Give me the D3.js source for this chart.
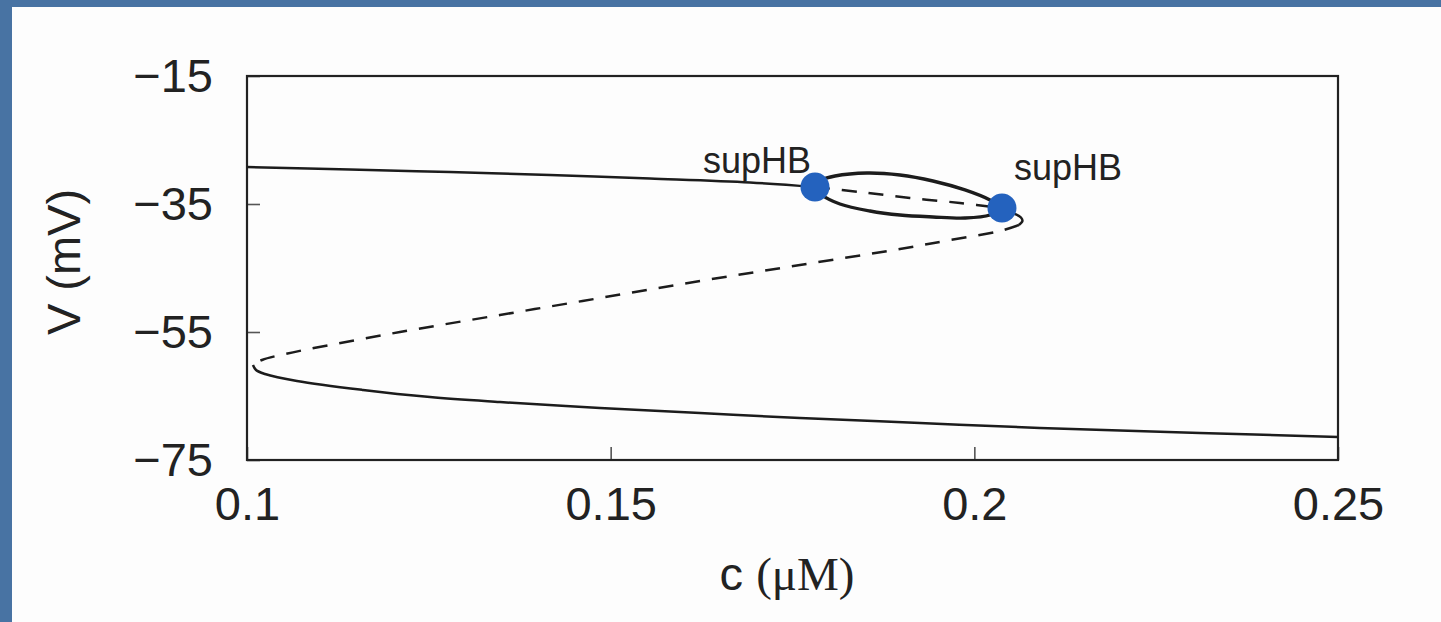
<!DOCTYPE html>
<html>
<head>
<meta charset="utf-8">
<script src="https://cdn.jsdelivr.net/npm/d3@7"></script>
<style>
  html, body { margin: 0; padding: 0; background: #46719f; }
  svg { display: block; }
</style>
</head>
<body>
<svg id="chart" width="1441" height="622"></svg>
<script>
// Bifurcation diagram of membrane potential V against calcium concentration c.

// Upper stable branch (depolarised steady states), up to the first Hopf point
const upperStableC = [0.1000, 0.11416, 0.12791, 0.14166, 0.15540, 0.16915, 0.17809];
const upperStableV = [-29.22, -29.61, -30.00, -30.47, -31.02, -31.64, -32.34];

// Unstable stretch of the upper branch between the two Hopf points
const upperUnstableC = [0.17809, 0.18427, 0.19115, 0.19802, 0.20380];
const upperUnstableV = [-32.34, -33.13, -34.06, -34.84, -35.63];

// Short stable stretch from the second Hopf point to the upper fold
const kneeStableC = [0.20380, 0.20531, 0.20641, 0.20661, 0.20613];
const kneeStableV = [-35.63, -36.41, -37.11, -37.66, -38.28];

// Middle (saddle) branch, unstable
const saddleC = [0.20613, 0.20352, 0.19665, 0.18977, 0.17602, 0.16228, 0.14853, 0.13478, 0.12103, 0.11141, 0.10522, 0.10206, 0.10082];
const saddleV = [-38.28, -39.22, -40.63, -42.03, -44.53, -47.03, -49.69, -52.34, -55.00, -57.03, -58.44, -59.38, -60.16];

// Lower stable branch (resting states)
const lowerStableC = [0.10082, 0.10124, 0.10247, 0.10687, 0.11595, 0.12516, 0.13478, 0.14853, 0.16228, 0.17602, 0.19252, 0.20902, 0.23101, 0.25000];
const lowerStableV = [-60.16, -60.94, -61.56, -62.66, -64.06, -65.16, -65.94, -66.88, -67.66, -68.44, -69.22, -70.00, -70.78, -71.41];

// Stable periodic orbit born at the Hopf points: max and min of V
const orbitMaxC = [0.17809, 0.17905, 0.18084, 0.18524, 0.18977, 0.19431, 0.19871, 0.20215, 0.20380];
const orbitMaxV = [-32.34, -31.25, -30.63, -30.16, -30.47, -31.41, -32.81, -34.38, -35.63];
const orbitMinC = [0.17809, 0.17905, 0.18152, 0.18565, 0.18977, 0.19431, 0.19871, 0.20215, 0.20380];
const orbitMinV = [-32.34, -33.59, -35.00, -36.09, -36.72, -37.03, -37.19, -36.72, -35.63];

// Supercritical Hopf bifurcation points
const hopfC = [0.17809, 0.20380];
const hopfV = [-32.34, -35.63];
const hopfLabels = ["supHB", "supHB"];

// Axis ticks
const xTicks = [0.1, 0.15, 0.2, 0.25];
const xTickLabels = ["0.1", "0.15", "0.2", "0.25"];
const yTicks = [-75, -55, -35, -15];
const yTickLabels = ["\u221275", "\u221255", "\u221235", "\u221215"];

const svg = d3.select("#chart");
const W = 1441, H = 622;

// slide background with white card
svg.append("rect").attr("width", W).attr("height", H).attr("fill", "#4873a3");
svg.append("rect").attr("x", 12).attr("y", 7).attr("width", W - 12).attr("height", H - 7).attr("fill", "#fdfdfd");

const plot = { left: 247, right: 1338, top: 76, bottom: 460 };
const x = d3.scaleLinear().domain([0.1, 0.25]).range([plot.left, plot.right]);
const y = d3.scaleLinear().domain([-75, -15]).range([plot.bottom, plot.top]);

const ink = "#222";
const font = "'Liberation Sans', Arial, Helvetica, sans-serif";

// axes with inward ticks
const xAxis = d3.axisBottom(x).tickValues(xTicks)
  .tickFormat((d, i) => xTickLabels[i]).tickSizeInner(-13).tickSizeOuter(0).tickPadding(27);
const yAxis = d3.axisLeft(y).tickValues(yTicks)
  .tickFormat((d, i) => yTickLabels[i]).tickSizeInner(-13).tickSizeOuter(0).tickPadding(34);

const gx = svg.append("g").attr("transform", `translate(0,${plot.bottom})`).call(xAxis);
const gy = svg.append("g").attr("transform", `translate(${plot.left},0)`).call(yAxis);
[gx, gy].forEach(g => {
  g.select(".domain").remove();
  g.selectAll(".tick line").attr("stroke", "#555").attr("stroke-width", 1.6);
  g.selectAll(".tick text").attr("fill", ink).attr("font-family", font).attr("font-size", 47);
});

// frame
svg.append("rect")
  .attr("x", plot.left).attr("y", plot.top)
  .attr("width", plot.right - plot.left).attr("height", plot.bottom - plot.top)
  .attr("fill", "none").attr("stroke", ink).attr("stroke-width", 2.2);

const line = d3.line().x(d => x(d[0])).y(d => y(d[1])).curve(d3.curveCatmullRom.alpha(0.5));
const pts = (cs, vs) => cs.map((c, i) => [c, vs[i]]);

const curves = svg.append("g").attr("fill", "none").attr("stroke", "#1c1c1c").attr("stroke-linecap", "butt");

function draw(cs, vs, width, dashed) {
  curves.append("path")
    .attr("d", line(pts(cs, vs)))
    .attr("stroke-width", width)
    .attr("stroke-dasharray", dashed ? "15,12" : null);
}

draw(upperStableC, upperStableV, 2.5, false);
draw(upperUnstableC, upperUnstableV, 2.5, true);
draw(kneeStableC, kneeStableV, 2.5, false);
draw(saddleC, saddleV, 2.5, true);
draw(lowerStableC, lowerStableV, 2.5, false);
draw(orbitMaxC, orbitMaxV, 3.4, false);
draw(orbitMinC, orbitMinV, 3.4, false);

// Hopf points
svg.append("g").selectAll("circle")
  .data(hopfC.map((c, i) => [c, hopfV[i]]))
  .join("circle")
  .attr("cx", d => x(d[0])).attr("cy", d => y(d[1]))
  .attr("r", 14.5).attr("fill", "#2462be");

// Hopf labels
const labelOffsets = [[-112, -14], [12, -28]];
svg.append("g").selectAll("text")
  .data(hopfLabels)
  .join("text")
  .attr("x", (d, i) => x(hopfC[i]) + labelOffsets[i][0])
  .attr("y", (d, i) => y(hopfV[i]) + labelOffsets[i][1])
  .attr("font-family", font).attr("font-size", 36).attr("fill", ink)
  .text(d => d);

// axis titles
const xt = svg.append("text")
  .attr("x", 787).attr("y", 590).attr("text-anchor", "middle")
  .attr("fill", ink).attr("font-size", 47);
xt.append("tspan").attr("font-family", font).text("c ");
xt.append("tspan").attr("font-family", "'Liberation Serif', 'Times New Roman', serif").text("(\u03BCM)");

svg.append("text")
  .attr("transform", "translate(80,262) rotate(-90)")
  .attr("text-anchor", "middle")
  .attr("font-family", font).attr("font-size", 47).attr("fill", ink)
  .text("V (mV)");
</script>
</body>
</html>
